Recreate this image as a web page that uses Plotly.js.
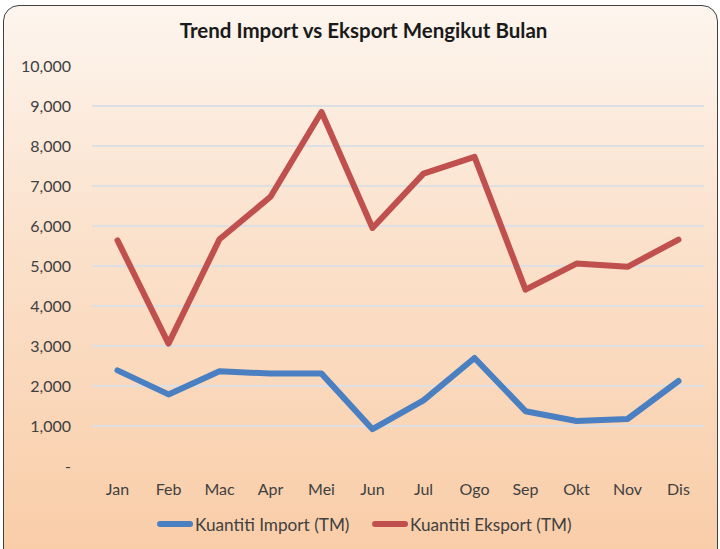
<!DOCTYPE html>
<html>
<head>
<meta charset="utf-8">
<script src="https://cdn.plot.ly/plotly-3.0.1.min.js"></script>
<style>
  html, body { margin: 0; padding: 0; width: 720px; height: 549px; overflow: hidden; background: #ffffff; }
  #frame {
    position: absolute; left: 3px; top: 5px; width: 713px; height: 560px;
    border: 1.5px solid #404040; border-radius: 16px;
    background: linear-gradient(to bottom, #fdf5ee 0%, #fbe2cd 40%, #f9cca6 100%);
  }
  #chart { position: absolute; left: 0; top: 0; width: 720px; height: 549px; }
  .js-line { stroke-linejoin: round !important; stroke-linecap: round !important; }
</style>
</head>
<body>
<div id="frame"></div>
<div id="chart"></div>
<script>
const months = ["Jan", "Feb", "Mac", "Apr", "Mei", "Jun", "Jul", "Ogo", "Sep", "Okt", "Nov", "Dis"];
const importQty = [2390, 1790, 2370, 2310, 2310, 920, 1640, 2700, 1370, 1125, 1175, 2125];
const exportQty = [5640, 3060, 5670, 6730, 8850, 5950, 7310, 7730, 4410, 5060, 4980, 5660];
const yTickVals = [0, 1000, 2000, 3000, 4000, 5000, 6000, 7000, 8000, 9000, 10000];
const yTickText = ["-", "1,000", "2,000", "3,000", "4,000", "5,000", "6,000", "7,000", "8,000", "9,000", "10,000"];

const font = "Lato, 'Open Sans', sans-serif";

const data = [
  { x: months, y: importQty, type: "scatter", mode: "lines", name: "Kuantiti Import (TM)",
    line: { color: "#4a7fc1", width: 6 } },
  { x: months, y: exportQty, type: "scatter", mode: "lines", name: "Kuantiti Eksport (TM)",
    line: { color: "#c0504d", width: 6 } }
];

const layout = {
  width: 720, height: 549,
  paper_bgcolor: "rgba(0,0,0,0)", plot_bgcolor: "rgba(0,0,0,0)",
  margin: { l: 92, r: 16, t: 65.5, b: 83.3, autoexpand: false },
  title: { text: "<b>Trend Import vs Eksport Mengikut Bulan</b>", x: 0.505, xanchor: "center",
           y: 0.944, yanchor: "middle",
           font: { family: font, size: 20.5, color: "#1a1a1a" } },
  xaxis: { type: "category", range: [-0.5, 11.5], showgrid: false, zeroline: false, showline: false,
           ticks: "", ticklabelstandoff: 12, automargin: false,
           tickfont: { family: font, size: 16, color: "#404040" }, fixedrange: true },
  yaxis: { range: [0, 10000], tickvals: yTickVals, ticktext: yTickText, showgrid: true,
           gridcolor: "#dcdfe4", gridwidth: 1.5, zeroline: false, showline: false, ticks: "",
           ticklabelstandoff: 20, automargin: false,
           tickfont: { family: font, size: 16, color: "#404040" }, fixedrange: true },
  showlegend: true,
  legend: { orientation: "h", x: 0.103, xanchor: "left", y: -0.146, yanchor: "middle",
            entrywidth: 170, entrywidthmode: "pixels",
            font: { family: font, size: 17.2, color: "#404040" }, bgcolor: "rgba(0,0,0,0)" },
  hovermode: false
};

Plotly.newPlot("chart", data, layout, { displayModeBar: false, staticPlot: true });
</script>
</body>
</html>
